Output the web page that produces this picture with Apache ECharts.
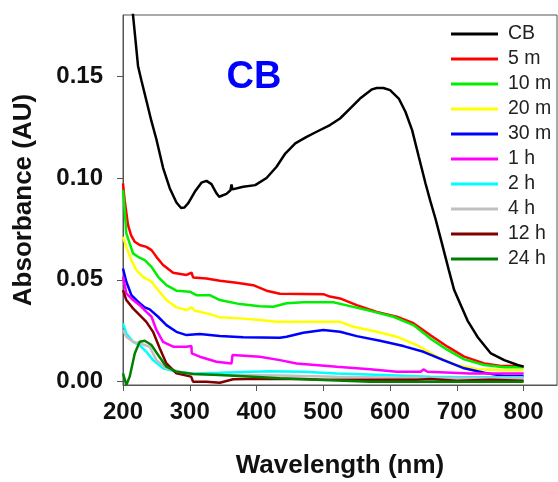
<!DOCTYPE html>
<html><head><meta charset="utf-8">
<script src="https://cdn.jsdelivr.net/npm/echarts@6/dist/echarts.min.js"></script>
<style>html,body{margin:0;padding:0;background:#fff}#c{width:558px;height:482px}</style>
</head><body><div id="c"></div>
<script>
const seriesNames = ['CB','5 m','10 m','20 m','30 m','1 h','2 h','4 h','12 h','24 h'];
const xTicks = [200,300,400,500,600,700,800];
const yTicks = [0,0.05,0.10,0.15];

const cb = [[200,0.23],[205,0.21],[210,0.193],[215,0.18],[218,0.170],[222.5,0.155],[227.5,0.148],[235,0.138],[242.5,0.128],[250,0.119],[260,0.105],[270,0.095],[280,0.088],[287,0.0853],[292,0.0855],[298,0.0878],[307.5,0.0932],[317.5,0.0977],[325,0.0986],[332.5,0.0970],[340,0.0925],[344,0.0908],[355,0.0922],[361,0.0940],[362.5,0.0968],[364,0.0944],[380,0.0957],[398,0.0965],[415,0.1000],[430,0.1055],[443,0.112],[458,0.117],[475,0.1202],[490,0.1227],[510,0.126],[525,0.1292],[540,0.1341],[555,0.139],[573,0.1435],[580,0.1442],[590,0.1442],[600,0.1431],[613,0.139],[623,0.1325],[633,0.1235],[643,0.1104],[653,0.0974],[660,0.089],[668,0.080],[676,0.070],[688,0.0548],[696,0.045],[716,0.030],[731,0.022],[751,0.0139],[771,0.0106],[791,0.0082],[800,0.0074]];
const m5 = [[200,0.0974],[202.5,0.089],[207.5,0.077],[212,0.072],[217.6,0.0687],[225,0.0671],[235,0.0662],[242.7,0.0646],[250,0.0613],[260,0.0573],[275,0.0535],[295,0.0524],[302.7,0.0535],[305,0.0512],[325,0.0507],[345,0.0496],[370,0.0486],[395,0.0474],[415,0.0447],[435,0.0432],[500,0.043],[508,0.042],[525,0.0409],[550,0.0376],[580,0.0343],[610,0.0319],[635,0.0287],[660,0.0229],[686,0.0172],[711,0.0123],[741,0.009],[766,0.0077],[786,0.0077],[800,0.0075]];
const m10 = [[200,0.094],[202.5,0.084],[205,0.0728],[210,0.0679],[215,0.063],[222.5,0.0613],[232.6,0.0597],[242.7,0.0564],[252.6,0.0515],[265,0.0474],[280,0.0447],[300,0.0442],[302.7,0.0447],[310,0.0425],[330,0.0425],[345,0.0401],[375,0.0381],[405,0.0371],[425,0.0368],[445,0.0385],[470,0.039],[515,0.039],[540,0.0371],[570,0.0348],[605,0.0319],[635,0.0278],[660,0.0213],[686,0.0156],[711,0.011],[741,0.0082],[771,0.0071],[800,0.0071]];
const m20 = [[200,0.0711],[205,0.0662],[212.6,0.0597],[220,0.0548],[230,0.0515],[242.7,0.0491],[252.6,0.045],[265,0.0401],[280,0.0365],[295,0.0352],[302.7,0.0365],[307.7,0.0348],[330,0.0332],[345,0.0316],[375,0.0311],[405,0.0303],[430,0.0294],[525,0.0294],[545,0.027],[580,0.0245],[610,0.0221],[640,0.018],[670,0.0123],[700,0.0082],[731,0.0061],[771,0.0057],[800,0.0057]];
const m30 = [[200,0.0556],[205,0.0491],[212.6,0.0425],[222.5,0.0393],[232.6,0.0365],[240,0.0355],[252.6,0.0319],[265,0.0278],[280,0.0245],[295,0.0229],[315,0.0234],[345,0.0224],[380,0.0218],[435,0.0216],[445,0.0221],[470,0.024],[500,0.0254],[525,0.0245],[550,0.0224],[585,0.0201],[620,0.0175],[650,0.0147],[680,0.0106],[711,0.0066],[741,0.0044],[771,0.0028],[800,0.0028]];
const h1 = [[200,0.0515],[205,0.0434],[215,0.0401],[225,0.0376],[235,0.0343],[242.7,0.0319],[250,0.0254],[260,0.0196],[275,0.0172],[295,0.0172],[302.5,0.0175],[303,0.0139],[315,0.0123],[340,0.0098],[362.5,0.009],[364,0.0131],[405,0.0123],[435,0.0106],[460,0.009],[520,0.0074],[570,0.0061],[610,0.0049],[646,0.0049],[650,0.0061],[656,0.0049],[720,0.0041],[800,0.0041]];
const h2 = [[200,0.0287],[205,0.0237],[215,0.0196],[225,0.018],[235,0.0147],[245,0.0106],[260,0.0066],[280,0.0049],[305,0.0041],[345,0.0044],[420,0.0052],[470,0.0049],[520,0.0041],[590,0.0033],[660,0.0025],[711,0.0022],[800,0.0022]];
const h4 = [[200,0.0254],[205,0.0221],[215,0.0196],[225,0.0188],[240,0.0172],[250,0.0106],[265,0.0066],[295,0.0041],[345,0.0033],[435,0.0031],[520,0.0025],[670,0.0017],[800,0.0017]];
const h12 = [[200,0.045],[205,0.0401],[215,0.036],[225,0.0327],[235,0.0294],[245,0.0245],[255,0.0164],[265,0.009],[280,0.0041],[302,0.0025],[305,0.0],[325,0.0],[345,-0.0005],[365,0.0012],[405,0.0015],[470,0.0013],[500,0.0010],[640,0.0010],[660,0.0014],[700,0.0005],[750,0.0010],[800,0.0005]];
const h24 = [[200,0.0041],[205,-0.0016],[210,0.0025],[217.6,0.0139],[225,0.0196],[232.6,0.0201],[242.7,0.018],[252.6,0.0131],[265,0.0074],[280,0.0049],[305,0.0038],[345,0.0033],[395,0.0025],[435,0.0017],[470,0.0012],[570,0.0],[800,0.0]];

const seriesData = [cb,m5,m10,m20,m30,h1,h2,h4,h12,h24];
const colors = ['#000000','#ff0000','#00ee00','#ffff00','#0000ff','#ff00ff','#00ffff','#c0c0c0','#800000','#008000'];

const FONT = '"Liberation Sans", Arial, sans-serif';
const chart = echarts.init(document.getElementById('c'), null, {renderer:'canvas'});
chart.setOption({
  animation: false,
  backgroundColor: '#fff',
  color: colors,
  grid: {left:123, right:1, top:15, bottom:97, show:true, borderColor:'#555', borderWidth:1, containLabel:false, outerBoundsMode:'none'},
  xAxis: {
    type:'value', min:200, max:850,
    name:'Wavelength (nm)', nameLocation:'middle', nameGap:68,
    nameTextStyle:{fontFamily:FONT, fontWeight:'bold', fontSize:26, color:'#111'},
    axisLine:{onZero:false, lineStyle:{color:'#555', width:1}},
    axisTick:{customValues:xTicks, length:6, lineStyle:{color:'#555'}},
    axisLabel:{customValues:xTicks, margin:15, fontFamily:FONT, fontWeight:'bold', fontSize:24, color:'#111'},
    splitLine:{show:false}
  },
  yAxis: {
    type:'value', min:-0.0016, max:0.18,
    name:'Absorbance (AU)', nameLocation:'middle', nameGap:86,
    nameTextStyle:{fontFamily:FONT, fontWeight:'bold', fontSize:26, color:'#111'},
    axisLine:{show:true, lineStyle:{color:'#555', width:1}},
    axisTick:{show:true, customValues:yTicks, length:6, lineStyle:{color:'#555'}},
    axisLabel:{customValues:yTicks, margin:20, fontFamily:FONT, fontWeight:'bold', fontSize:24, color:'#111', formatter:v=>v.toFixed(2)},
    splitLine:{show:false}
  },
  legend: {
    orient:'vertical', left:446, top:19, padding:5, itemWidth:47, itemHeight:3, itemGap:5,
    icon:'rect',
    data: seriesNames,
    textStyle:{fontFamily:FONT, fontSize:19.5, color:'#222', lineHeight:20, padding:[0,0,0,5]}
  },
  graphic: [{type:'text', x:254, y:78, style:{text:'CB', font:'bold 38px "Liberation Sans", Arial, sans-serif', fill:'#0000ff', align:'center', verticalAlign:'middle'}}],
  series: seriesNames.map((n,i)=>({
    name:n, type:'line', data:seriesData[i], symbol:'none', showSymbol:false,
    lineStyle:{width:2.5, color:colors[i]}, itemStyle:{color:colors[i]}, clip:true,
    z: i===0 ? 3 : 2
  }))
});
</script></body></html>
